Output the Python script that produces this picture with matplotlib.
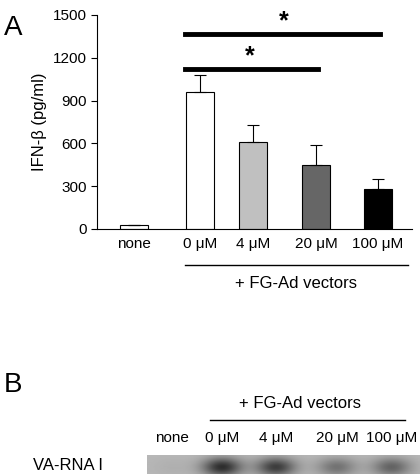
import numpy as np
import matplotlib
matplotlib.use("Agg")
import matplotlib.pyplot as plt

plt.rcParams['font.family'] = ['Liberation Sans', 'DejaVu Sans']

categories = ["none", "0 \u03bcM", "4 \u03bcM", "20 \u03bcM", "100 \u03bcM"]
values = [25, 960, 610, 450, 280]
errors = [0, 120, 120, 140, 70]
colors = ["white", "white", "#c0c0c0", "#666666", "black"]
yticks = [0, 300, 600, 900, 1200, 1500]
blot_intensity = [0.05, 0.9, 0.8, 0.45, 0.55]

W, H = 420, 474
fig = plt.figure(figsize=(W/100, H/100), dpi=100)
def fx(px): return px / W
def fy(py): return 1 - py / H

ax = fig.add_axes([fx(97), fy(229), fx(412) - fx(97), fy(15) - fy(229)])
x = np.array([0.59, 1.65, 2.5, 3.51, 4.5])
ax.bar(x, values, width=0.45, color=colors, edgecolor="black", linewidth=0.8,
       yerr=[np.zeros(len(errors)), errors],
       error_kw=dict(ecolor="black", capsize=4, elinewidth=0.8, capthick=0.8))
ax.set_xlim(0, 5.05)
ax.set_ylim(0, 1500)
ax.set_yticks(yticks)
ax.set_xticks(x)
ax.set_xticklabels(categories, fontsize=11)
ax.tick_params(axis='x', length=0, pad=6)
ax.tick_params(axis='y', labelsize=11, direction='out', length=4)
ax.spines['top'].set_visible(False)
ax.spines['right'].set_visible(False)
ax.set_ylabel("IFN-\u03b2 (pg/ml)", fontsize=12)
# significance
ax.plot([1.41, 4.53], [1370, 1370], color="black", lw=3.5)
ax.text(3.0, 1375, "*", ha="center", va="bottom", fontsize=18, fontweight="bold")
ax.plot([1.41, 3.54], [1120, 1120], color="black", lw=3.5)
ax.text(2.45, 1125, "*", ha="center", va="bottom", fontsize=18, fontweight="bold")

fig.text(fx(4), fy(28), "A", fontsize=20, va="center")
fig.add_artist(plt.Line2D([fx(185), fx(408)], [fy(265), fy(265)], color="black", lw=1))
fig.text(fx(296), fy(284), "+ FG-Ad vectors", fontsize=12, ha="center", va="center")

# Panel B
fig.text(fx(4), fy(385), "B", fontsize=20, va="center")
fig.text(fx(300), fy(403), "+ FG-Ad vectors", fontsize=12, ha="center", va="center")
fig.add_artist(plt.Line2D([fx(210), fx(405)], [fy(420), fy(420)], color="black", lw=1))
lane_px = [172, 222, 276, 337, 392]
for lbl, px in zip(categories, lane_px):
    fig.text(fx(px), fy(438), lbl, fontsize=11, ha="center", va="center")
fig.text(fx(68), fy(466), "VA-RNA I", fontsize=12, ha="center", va="center")

bax = fig.add_axes([fx(147), 0, 1 - fx(147), fy(455)])
xs = np.linspace(147, 420, 273)
ys = np.linspace(455, 480, 25)
X, Y = np.meshgrid(xs, ys)
img = np.full(X.shape, 0.72)
for inten, px in zip(blot_intensity, lane_px):
    img -= 0.6 * inten * np.exp(-((X - px) ** 2) / (2 * 14 ** 2) - ((Y - 471) ** 2) / (2 * 9 ** 2))
bax.imshow(img, cmap="gray", vmin=0, vmax=1, aspect="auto",
           extent=[147, 420, 480, 455])
bax.set_axis_off()

fig.savefig("out.png", dpi=100)
